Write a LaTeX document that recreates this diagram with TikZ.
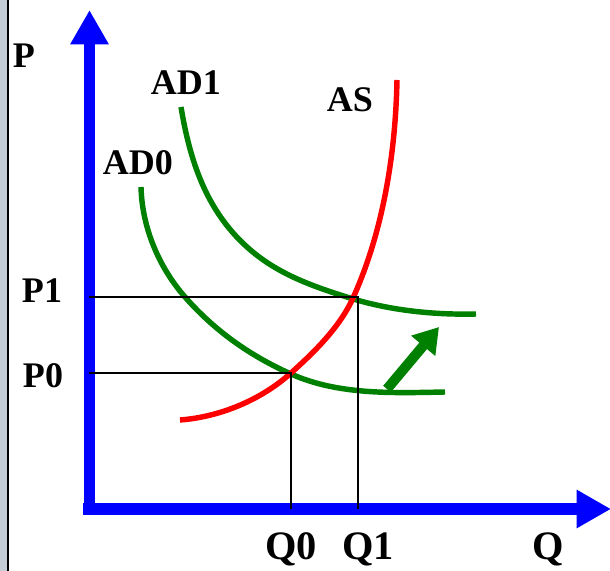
\documentclass[tikz,border=0pt]{standalone}
\usepackage{fontspec}
\setmainfont{Liberation Serif}
\usetikzlibrary{arrows.meta}
\definecolor{adgreen}{RGB}{0,128,0}
\definecolor{slidegray}{RGB}{196,204,214}

\begin{document}
\begin{tikzpicture}[x=0.02cm, y=-0.02cm,
  lbl/.style={anchor=base, inner sep=0pt, font=\fontsize{20.5}{24}\selectfont\bfseries},
  qlbl/.style={lbl, font=\fontsize{23}{27}\selectfont\bfseries},
  axisline/.style={blue, line width=6.8pt, -{Triangle[length=19.5pt, width=20.5pt]}},
  curve/.style={line width=3.1pt},
  guide/.style={line width=1.1pt}]
  \useasboundingbox (0,0) rectangle (610,571);
  \fill[slidegray] (0,0) rectangle (7.5,571);
  \draw[line width=1.1pt] (8.3,0) -- (8.3,571);

  \coordinate (O) at (89.5,509);
  \coordinate (ytail) at (89.5,515);
  \coordinate (ytip) at (89.5,10);
  \coordinate (xtail) at (83.5,509);
  \coordinate (xtip) at (611,509);
  \draw[axisline] (ytail) -- (ytip);
  \draw[axisline] (xtail) -- (xtip);

  \draw[curve, adgreen] (141,187) .. controls (142,227) and (158.6,267) .. (185,297)
    .. controls (214.7,330.8) and (249.9,355.7) .. (291,374)
    .. controls (338.5,395.2) and (393,393) .. (445,392);
  \draw[curve, adgreen] (181,107) .. controls (190,161.2) and (206.2,210.1) .. (247,247)
    .. controls (276.7,273.8) and (311.8,286.1) .. (350,298)
    .. controls (390.1,310.5) and (434,315) .. (476,314);
  \draw[curve, red] (180,420) .. controls (220,417) and (261.3,399.8) .. (291,373)
    .. controls (314.8,351.6) and (339.8,327.1) .. (353,298)
    .. controls (377.8,243.4) and (395.2,170) .. (397,80);

  \coordinate (E0) at (291,373);
  \coordinate (E1) at (358,297);
  \draw[guide] (E0 -| O) -- (E0) -- (E0 |- O);
  \draw[guide] (E1 -| O) -- (E1) -- (E1 |- O);

  \coordinate (shiftfrom) at (387,389);
  \coordinate (shiftto) at (439,327);
  \draw[adgreen, line width=5.7pt, -{Triangle[length=14pt, width=17pt]}] (shiftfrom) -- (shiftto);

  \node[lbl] (P) at (24,68) {P};
  \node[lbl] (P1) at (42,303) {P1};
  \node[lbl] (P0) at (43,388) {P0};
  \node[lbl] (AD1) at (186,95) {AD1};
  \node[lbl] (AS) at (350,112) {AS};
  \node[lbl] (AD0) at (138,175) {AD0};
  \node[qlbl] (Q0) at (291,560) {Q0};
  \node[qlbl] (Q1) at (368,560) {Q1};
  \node[qlbl] (Q) at (548,560) {Q};
\end{tikzpicture}
\end{document}
